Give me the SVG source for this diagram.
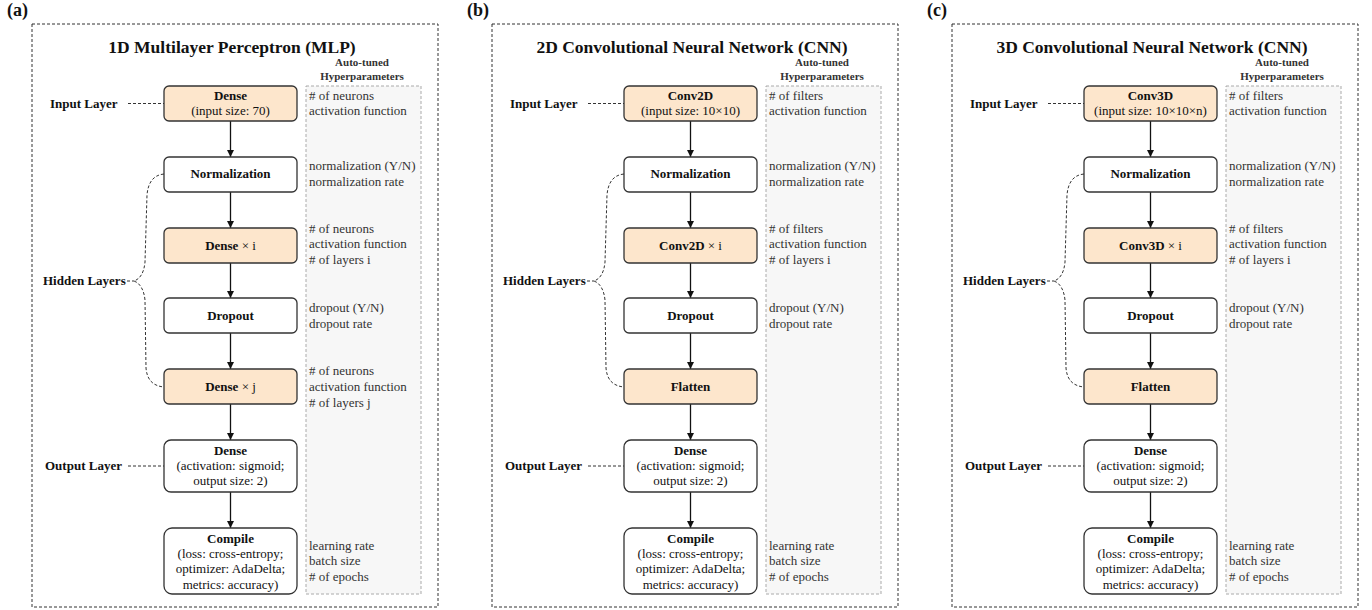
<svg xmlns="http://www.w3.org/2000/svg" width="1372" height="610" viewBox="0 0 1372 610">
<style>
text{font-family:"Liberation Serif","Times New Roman",serif;fill:#111}
.lbl{font-size:18px;font-weight:bold}
.title{font-size:17.5px;font-weight:bold;text-anchor:middle}
.ah{font-size:11px;font-weight:bold;text-anchor:middle;fill:#333}
.side{font-size:13px;font-weight:bold}
.nt{font-size:13px;text-anchor:middle}
.b{font-weight:bold}
.hp{font-size:13px;fill:#333}
.outer{fill:none;stroke:#333;stroke-width:1;stroke-dasharray:3,2}
.hbox{fill:#f7f7f7;stroke:#aaa;stroke-width:1;stroke-dasharray:3,2}
.n{fill:#fff;stroke:#333;stroke-width:1.3}
.o{fill:#fde6cc;stroke:#333;stroke-width:1.3}
.arr{stroke:#111;stroke-width:1.3;fill:none;marker-end:url(#ah)}
.dash{stroke:#333;stroke-width:1;fill:none;stroke-dasharray:3,2}
</style>
<defs>
<marker id="ah" viewBox="0 0 10 10" refX="10" refY="5" markerWidth="7" markerHeight="7" markerUnits="userSpaceOnUse" orient="auto">
<path d="M0,0 L10,5 L0,10 z" fill="#111"/>
</marker>
</defs>

<!-- Panel (a) -->
<g id="panel-a">
<text class="lbl" x="7" y="16">(a)</text>
<rect class="outer" x="32" y="24" width="406" height="583"/>
<text class="title" x="232" y="53">1D Multilayer Perceptron (MLP)</text>
<text class="ah" x="362" y="66">Auto-tuned</text>
<text class="ah" x="362" y="80">Hyperparameters</text>
<rect class="hbox" x="306" y="86" width="115" height="508"/>
<text class="side" x="50" y="108">Input Layer</text>
<text class="side" x="43" y="285">Hidden Layers</text>
<text class="side" x="45" y="470">Output Layer</text>
<g class="hp">
<text class="hp" x="309" y="100">
<tspan x="309" y="100"># of neurons</tspan><tspan x="309" y="115">activation function</tspan></text>
<text class="hp"><tspan x="309" y="170">normalization (Y/N)</tspan><tspan x="309" y="186">normalization rate</tspan></text>
<text class="hp"><tspan x="309" y="233"># of neurons</tspan><tspan x="309" y="248">activation function</tspan><tspan x="309" y="264"># of layers i</tspan></text>
<text class="hp"><tspan x="309" y="312">dropout (Y/N)</tspan><tspan x="309" y="328">dropout rate</tspan></text>
<text class="hp"><tspan x="309" y="375"># of neurons</tspan><tspan x="309" y="391">activation function</tspan><tspan x="309" y="407"># of layers j</tspan></text>
<text class="hp"><tspan x="309" y="550">learning rate</tspan><tspan x="309" y="565">batch size</tspan><tspan x="309" y="581"># of epochs</tspan></text>
</g>
<g id="a-connectors">
<path class="dash" d="M128,103.5 L164,103.5"/>
<path class="dash" d="M128,466 L164,466"/>
<path class="dash" d="M127,281 L134,281 M164,174 C153,175 148,183 147,195 L145,262 C144,273 140,279 134,281 C140,283 144,290 145,300 L146,368 C147,380 153,386 164,387"/>
<path class="arr" d="M230.5,121 L230.5,157"/>
<path class="arr" d="M230.5,192 L230.5,228"/>
<path class="arr" d="M230.5,263 L230.5,298"/>
<path class="arr" d="M230.5,333 L230.5,369"/>
<path class="arr" d="M230.5,404 L230.5,440"/>
<path class="arr" d="M230.5,492 L230.5,528"/>
</g>
<g id="a-input"><rect class="o" x="164" y="86" width="133" height="35" rx="5"/><text class="nt"><tspan class="b" x="230.5" y="100">Dense</tspan><tspan x="230.5" y="115">(input size: 70)</tspan></text></g>
<g id="a-norm"><rect class="n" x="164" y="157" width="133" height="35" rx="5"/><text class="nt b" x="230.5" y="178">Normalization</text></g>
<g id="a-dense-i"><rect class="o" x="164" y="228" width="133" height="35" rx="5"/><text class="nt" x="230.5" y="250"><tspan class="b">Dense</tspan> × i</text></g>
<g id="a-dropout"><rect class="n" x="164" y="298" width="133" height="35" rx="5"/><text class="nt b" x="230.5" y="320">Dropout</text></g>
<g id="a-dense-j"><rect class="o" x="164" y="369" width="133" height="35" rx="5"/><text class="nt" x="230.5" y="391"><tspan class="b">Dense</tspan> × j</text></g>
<g id="a-output"><rect class="n" x="164" y="440" width="133" height="52" rx="7"/><text class="nt"><tspan class="b" x="230.5" y="455">Dense</tspan><tspan x="230.5" y="470">(activation: sigmoid;</tspan><tspan x="230.5" y="485">output size: 2)</tspan></text></g>
<g id="a-compile"><rect class="n" x="164" y="528" width="133" height="66" rx="8"/><text class="nt"><tspan class="b" x="230.5" y="543">Compile</tspan><tspan x="230.5" y="558">(loss: cross-entropy;</tspan><tspan x="230.5" y="573">optimizer: AdaDelta;</tspan><tspan x="230.5" y="589">metrics: accuracy)</tspan></text></g>
</g>

<!-- Panel (b) -->
<g id="panel-b" transform="translate(460,0)">
<text class="lbl" x="7" y="16">(b)</text>
<rect class="outer" x="32" y="24" width="406" height="583"/>
<text class="title" x="232" y="53">2D Convolutional Neural Network (CNN)</text>
<text class="ah" x="362" y="66">Auto-tuned</text>
<text class="ah" x="362" y="80">Hyperparameters</text>
<rect class="hbox" x="306" y="86" width="115" height="508"/>
<text class="side" x="50" y="108">Input Layer</text>
<text class="side" x="43" y="285">Hidden Layers</text>
<text class="side" x="45" y="470">Output Layer</text>
<g class="hp">
<text class="hp"><tspan x="309" y="100"># of filters</tspan><tspan x="309" y="115">activation function</tspan></text>
<text class="hp"><tspan x="309" y="170">normalization (Y/N)</tspan><tspan x="309" y="186">normalization rate</tspan></text>
<text class="hp"><tspan x="309" y="233"># of filters</tspan><tspan x="309" y="248">activation function</tspan><tspan x="309" y="264"># of layers i</tspan></text>
<text class="hp"><tspan x="309" y="312">dropout (Y/N)</tspan><tspan x="309" y="328">dropout rate</tspan></text>
<text class="hp"><tspan x="309" y="550">learning rate</tspan><tspan x="309" y="565">batch size</tspan><tspan x="309" y="581"># of epochs</tspan></text>
</g>
<g id="b-connectors">
<path class="dash" d="M128,103.5 L164,103.5"/>
<path class="dash" d="M128,466 L164,466"/>
<path class="dash" d="M127,281 L134,281 M164,174 C153,175 148,183 147,195 L145,262 C144,273 140,279 134,281 C140,283 144,290 145,300 L146,368 C147,380 153,386 164,387"/>
<path class="arr" d="M230.5,121 L230.5,157"/>
<path class="arr" d="M230.5,192 L230.5,228"/>
<path class="arr" d="M230.5,263 L230.5,298"/>
<path class="arr" d="M230.5,333 L230.5,369"/>
<path class="arr" d="M230.5,404 L230.5,440"/>
<path class="arr" d="M230.5,492 L230.5,528"/>
</g>
<g id="b-input"><rect class="o" x="164" y="86" width="133" height="35" rx="5"/><text class="nt"><tspan class="b" x="230.5" y="100">Conv2D</tspan><tspan x="230.5" y="115">(input size: 10×10)</tspan></text></g>
<g id="b-norm"><rect class="n" x="164" y="157" width="133" height="35" rx="5"/><text class="nt b" x="230.5" y="178">Normalization</text></g>
<g id="b-conv-i"><rect class="o" x="164" y="228" width="133" height="35" rx="5"/><text class="nt" x="230.5" y="250"><tspan class="b">Conv2D</tspan> × i</text></g>
<g id="b-dropout"><rect class="n" x="164" y="298" width="133" height="35" rx="5"/><text class="nt b" x="230.5" y="320">Dropout</text></g>
<g id="b-flatten"><rect class="o" x="164" y="369" width="133" height="35" rx="5"/><text class="nt b" x="230.5" y="391">Flatten</text></g>
<g id="b-output"><rect class="n" x="164" y="440" width="133" height="52" rx="7"/><text class="nt"><tspan class="b" x="230.5" y="455">Dense</tspan><tspan x="230.5" y="470">(activation: sigmoid;</tspan><tspan x="230.5" y="485">output size: 2)</tspan></text></g>
<g id="b-compile"><rect class="n" x="164" y="528" width="133" height="66" rx="8"/><text class="nt"><tspan class="b" x="230.5" y="543">Compile</tspan><tspan x="230.5" y="558">(loss: cross-entropy;</tspan><tspan x="230.5" y="573">optimizer: AdaDelta;</tspan><tspan x="230.5" y="589">metrics: accuracy)</tspan></text></g>
</g>

<!-- Panel (c) -->
<g id="panel-c" transform="translate(920,0)">
<text class="lbl" x="7" y="16">(c)</text>
<rect class="outer" x="32" y="24" width="406" height="583"/>
<text class="title" x="232" y="53">3D Convolutional Neural Network (CNN)</text>
<text class="ah" x="362" y="66">Auto-tuned</text>
<text class="ah" x="362" y="80">Hyperparameters</text>
<rect class="hbox" x="306" y="86" width="115" height="508"/>
<text class="side" x="50" y="108">Input Layer</text>
<text class="side" x="43" y="285">Hidden Layers</text>
<text class="side" x="45" y="470">Output Layer</text>
<g class="hp">
<text class="hp"><tspan x="309" y="100"># of filters</tspan><tspan x="309" y="115">activation function</tspan></text>
<text class="hp"><tspan x="309" y="170">normalization (Y/N)</tspan><tspan x="309" y="186">normalization rate</tspan></text>
<text class="hp"><tspan x="309" y="233"># of filters</tspan><tspan x="309" y="248">activation function</tspan><tspan x="309" y="264"># of layers i</tspan></text>
<text class="hp"><tspan x="309" y="312">dropout (Y/N)</tspan><tspan x="309" y="328">dropout rate</tspan></text>
<text class="hp"><tspan x="309" y="550">learning rate</tspan><tspan x="309" y="565">batch size</tspan><tspan x="309" y="581"># of epochs</tspan></text>
</g>
<g id="c-connectors">
<path class="dash" d="M128,103.5 L164,103.5"/>
<path class="dash" d="M128,466 L164,466"/>
<path class="dash" d="M127,281 L134,281 M164,174 C153,175 148,183 147,195 L145,262 C144,273 140,279 134,281 C140,283 144,290 145,300 L146,368 C147,380 153,386 164,387"/>
<path class="arr" d="M230.5,121 L230.5,157"/>
<path class="arr" d="M230.5,192 L230.5,228"/>
<path class="arr" d="M230.5,263 L230.5,298"/>
<path class="arr" d="M230.5,333 L230.5,369"/>
<path class="arr" d="M230.5,404 L230.5,440"/>
<path class="arr" d="M230.5,492 L230.5,528"/>
</g>
<g id="c-input"><rect class="o" x="164" y="86" width="133" height="35" rx="5"/><text class="nt"><tspan class="b" x="230.5" y="100">Conv3D</tspan><tspan x="230.5" y="115">(input size: 10×10×n)</tspan></text></g>
<g id="c-norm"><rect class="n" x="164" y="157" width="133" height="35" rx="5"/><text class="nt b" x="230.5" y="178">Normalization</text></g>
<g id="c-conv-i"><rect class="o" x="164" y="228" width="133" height="35" rx="5"/><text class="nt" x="230.5" y="250"><tspan class="b">Conv3D</tspan> × i</text></g>
<g id="c-dropout"><rect class="n" x="164" y="298" width="133" height="35" rx="5"/><text class="nt b" x="230.5" y="320">Dropout</text></g>
<g id="c-flatten"><rect class="o" x="164" y="369" width="133" height="35" rx="5"/><text class="nt b" x="230.5" y="391">Flatten</text></g>
<g id="c-output"><rect class="n" x="164" y="440" width="133" height="52" rx="7"/><text class="nt"><tspan class="b" x="230.5" y="455">Dense</tspan><tspan x="230.5" y="470">(activation: sigmoid;</tspan><tspan x="230.5" y="485">output size: 2)</tspan></text></g>
<g id="c-compile"><rect class="n" x="164" y="528" width="133" height="66" rx="8"/><text class="nt"><tspan class="b" x="230.5" y="543">Compile</tspan><tspan x="230.5" y="558">(loss: cross-entropy;</tspan><tspan x="230.5" y="573">optimizer: AdaDelta;</tspan><tspan x="230.5" y="589">metrics: accuracy)</tspan></text></g>
</g>
</svg>
